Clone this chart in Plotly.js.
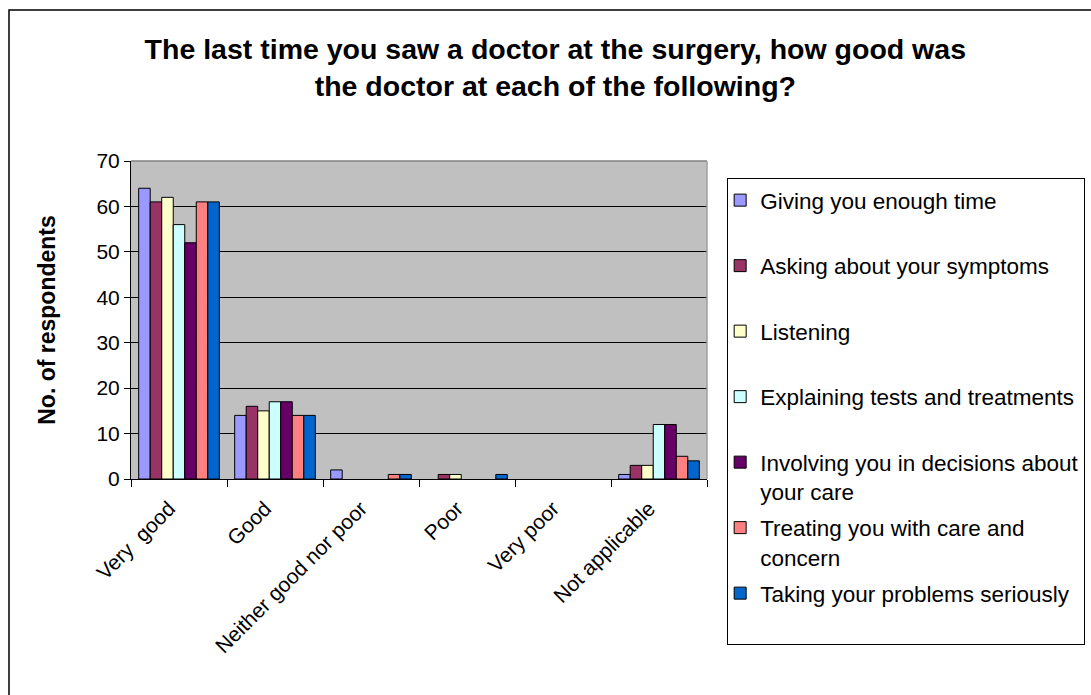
<!DOCTYPE html>
<html>
<head>
<meta charset="utf-8">
<script src="https://cdn.plot.ly/plotly-3.0.1.min.js"></script>
<style>html,body{margin:0;padding:0;background:#fff;}#chart{width:1091px;height:695px;}</style>
</head>
<body>
<div id="chart"></div>
<script>
const categories = ["Very  good", "Good", "Neither good nor poor", "Poor", "Very poor", "Not applicable"];
const seriesNames = [
  "Giving you enough time",
  "Asking about your symptoms",
  "Listening",
  "Explaining tests and treatments",
  "Involving you in decisions about<br>your care",
  "Treating you with care and<br>concern",
  "Taking your problems seriously"
];
const givingTime   = [64, 14, 2, 0, 0, 1];
const askingSympt  = [61, 16, 0, 1, 0, 3];
const listening    = [62, 15, 0, 1, 0, 3];
const explaining   = [56, 17, 0, 0, 0, 12];
const involving    = [52, 17, 0, 0, 0, 12];
const treating     = [61, 14, 1, 0, 0, 5];
const taking       = [61, 14, 1, 1, 0, 4];
const seriesValues = [givingTime, askingSympt, listening, explaining, involving, treating, taking];
const colors = ["#9999FF", "#993366", "#FFFFCC", "#CCFFFF", "#660066", "#FF8080", "#0066CC"];
const yTicks = [0, 10, 20, 30, 40, 50, 60, 70];

const FONT = "Liberation Sans, Arial, sans-serif";

const traces = seriesNames.map((name, i) => ({
  type: "bar",
  name: name.indexOf("<br>") >= 0 ? name : name + "<br> ",
  x: categories,
  // zero counts are not drawn (no outline at the baseline)
  y: seriesValues[i].map(v => (v === 0 ? null : v)),
  legendgroup: "g" + i,
  marker: { color: colors[i], line: { color: "#000000", width: 1 } },
  hoverinfo: "x+y+name"
}));

const layout = {
  width: 1091,
  height: 695,
  margin: { l: 131, r: 384, t: 161, b: 216, pad: 0, autoexpand: false },
  paper_bgcolor: "#FFFFFF",
  plot_bgcolor: "#C0C0C0",
  font: { family: FONT, color: "#000000", size: 21 },
  title: {
    text: "<b>The last time you saw a doctor at the surgery, how good was<br>the doctor at each of the following?</b>",
    font: { family: FONT, size: 28.5, color: "#000000" },
    x: 0.509, xref: "container", xanchor: "center",
    y: 0.915, yref: "container", yanchor: "top"
  },
  barmode: "group",
  bargap: 0.16,
  bargroupgap: 0,
  xaxis: {
    type: "category",
    tickangle: -45,
    tickson: "boundaries",
    ticks: "outside",
    ticklen: 7,
    tickcolor: "#000000",
    showline: true,
    linecolor: "#000000",
    linewidth: 1,
    showgrid: false,
    zeroline: false,
    ticklabelstandoff: 8,
    ticklabelshift: -10,
    tickfont: { family: FONT, size: 21, color: "#000000" },
    fixedrange: true
  },
  yaxis: {
    range: [0, 70],
    tickvals: yTicks,
    ticktext: yTicks.map(String),
    ticks: "outside",
    ticklen: 6,
    tickcolor: "#000000",
    showline: true,
    linecolor: "#000000",
    linewidth: 1,
    showgrid: true,
    gridcolor: "#000000",
    gridwidth: 1,
    zeroline: false,
    tickfont: { family: FONT, size: 21, color: "#000000" },
    title: { text: "<b>No. of respondents</b>", font: { family: FONT, size: 23, color: "#000000" }, standoff: 34 },
    fixedrange: true
  },
  showlegend: true,
  legend: {
    x: 1.035, xanchor: "left", xref: "paper",
    y: 0.9465, yanchor: "top", yref: "paper",
    bgcolor: "#FFFFFF",
    bordercolor: "#000000",
    borderwidth: 1,
    font: { family: FONT, size: 22.5, color: "#000000" },
    valign: "top",
    traceorder: "grouped",
    tracegroupgap: 4,
    itemwidth: 30,
    indentation: -8,
    maxheight: 650
  },
  shapes: [
    {
      type: "rect", xref: "paper", yref: "paper",
      x0: -0.2118, x1: 1.70, y0: -0.72, y1: 1.4748,
      line: { color: "#000000", width: 1.5 }, fillcolor: "rgba(0,0,0,0)", layer: "below"
    },
    {
      type: "line", xref: "paper", yref: "paper",
      x0: 0, x1: 1, y0: 1, y1: 1,
      line: { color: "#808080", width: 1.5 }, layer: "above"
    },
    {
      type: "line", xref: "paper", yref: "paper",
      x0: 1, x1: 1, y0: 0, y1: 1,
      line: { color: "#A0A0A0", width: 1.5 }, layer: "above"
    }
  ]
};

Plotly.newPlot("chart", traces, layout, { displayModeBar: false, staticPlot: true });
</script>
</body>
</html>
